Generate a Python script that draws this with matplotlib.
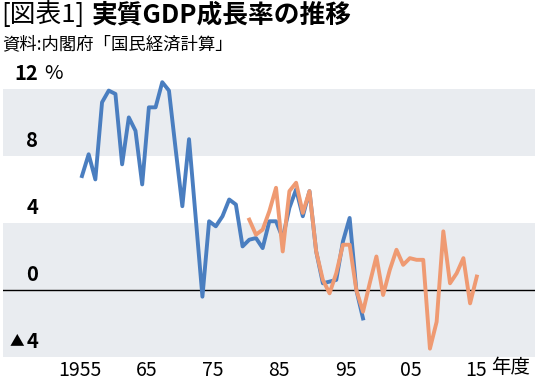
import matplotlib
matplotlib.use('Agg')
import matplotlib.pyplot as plt
from matplotlib.transforms import blended_transform_factory

plt.rcParams['font.family'] = ['Noto Sans CJK JP', 'DejaVu Sans']

# 68SNA (blue) FY1956-1998
years_old = list(range(1956, 1999))
gdp_old = [6.8, 8.1, 6.6, 11.2, 11.9, 11.7, 7.5, 10.3, 9.5, 6.3,
           10.9, 10.9, 12.4, 11.9, 8.4, 5.0, 9.0, 4.3, -0.4, 4.1,
           3.8, 4.4, 5.4, 5.1, 2.6, 3.0, 3.1, 2.5, 4.1, 4.1,
           3.1, 4.9, 6.0, 4.4, 5.9, 2.3, 0.4, 0.5, 0.6, 2.9,
           4.3, 0.0, -1.7]

# 93SNA / 08SNA (orange) FY1981-2015
years_new = list(range(1981, 2016))
gdp_new = [4.2, 3.3, 3.6, 4.7, 6.1, 2.3, 5.9, 6.4, 4.6, 5.9,
           2.3, 0.6, -0.2, 1.0, 2.7, 2.7, 0.0, -1.3, 0.4, 2.0,
           -0.3, 1.2, 2.4, 1.5, 1.9, 1.8, 1.8, -3.5, -1.9, 3.5,
           0.4, 1.0, 1.9, -0.8, 0.8]

ytick_vals = [12, 8, 4, 0, -4]
ytick_labels = ['12', '8', '4', '0', '4']
xtick_pos = [1955.7, 1965.6, 1975.6, 1985.5, 1995.4, 2005.2, 2014.9]
xtick_labels = ['1955', '65', '75', '85', '95', '05', '15']

blue = '#4A7EC0'
orange = '#EF9A72'
band = '#E9ECF0'

fig = plt.figure(figsize=(5.39, 3.85), dpi=100)
ax = fig.add_axes([3 / 539, 28 / 385, 532 / 539, 284 / 385])
ax.set_xlim(1944.2, 2023.7)
ax.set_ylim(-4, 12.95)

# background bands
ax.axhspan(8, 12, color=band, zorder=0, lw=0)
ax.axhspan(-4, 4, color=band, zorder=0, lw=0)
ax.axhline(0, color='black', lw=1.0, zorder=1)

ax.plot(years_old, gdp_old, color=blue, lw=2.8, zorder=2)
ax.plot(years_new, gdp_new, color=orange, lw=2.8, zorder=3)

for s in ax.spines.values():
    s.set_visible(False)
ax.set_yticks([])
ax.set_xticks(xtick_pos)
ax.set_xticklabels(xtick_labels, fontsize=14)
ax.tick_params(axis='x', length=0, pad=2)

# y labels sit just above their grid line
trans = blended_transform_factory(ax.transAxes, ax.transData)
for v, lab in zip(ytick_vals, ytick_labels):
    ax.text(0.066, v + 0.3, lab, transform=trans, ha='right', va='bottom',
            fontsize=14.5, fontweight='bold')
ax.text(0.078, 12 + 0.3, '%', transform=trans, ha='left', va='bottom', fontsize=14.5)
ax.text(0.039, -4 + 0.5, '▲', transform=trans, ha='right', va='bottom', fontsize=10.5)

ax.text(2017.1, -4, '年度', ha='left', va='top', fontsize=14)

fig.text(1 / 539, 1 - 15 / 385, '[図表1]', ha='left', va='center', fontsize=18.5)
fig.text(92 / 539, 1 - 15 / 385, '実質GDP成長率の推移', ha='left', va='center',
         fontsize=18.5, fontweight='bold')
fig.text(2 / 539, 1 - 44 / 385, '資料:内閣府「国民経済計算」', ha='left', va='center', fontsize=12.5)

fig.savefig('out.png', dpi=100)
